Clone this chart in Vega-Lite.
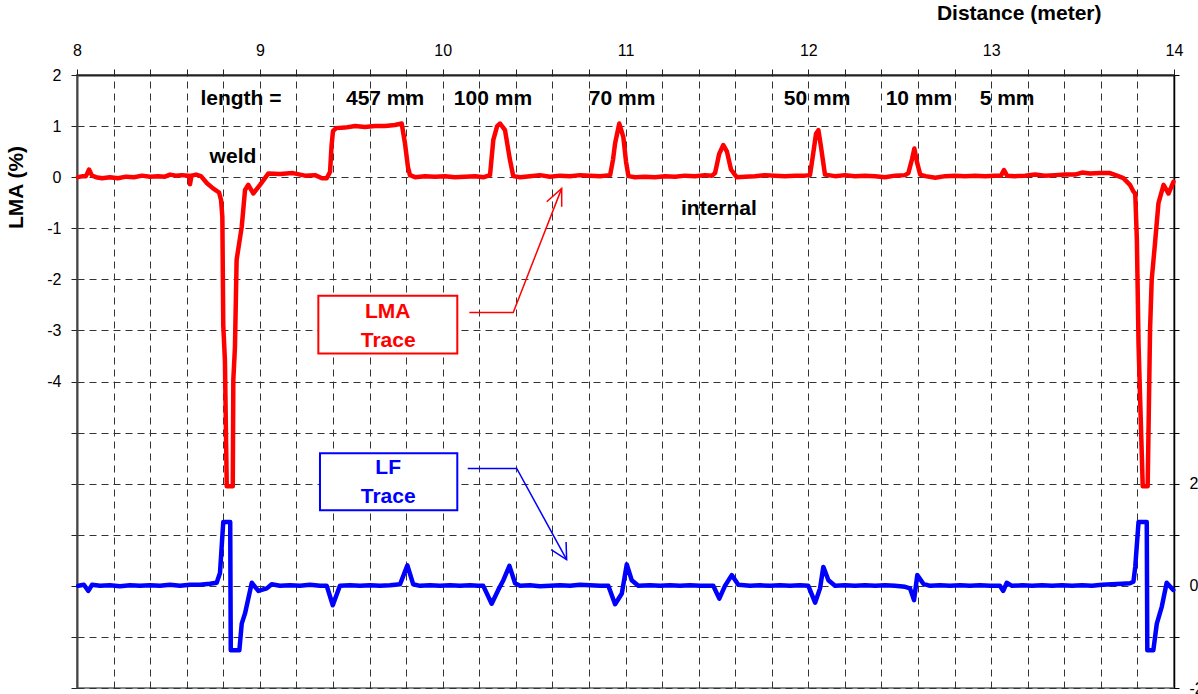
{
  "$schema": "https://vega.github.io/schema/vega-lite/v6.json",
  "width": 1097,
  "height": 613,
  "autosize": {"type": "none"},
  "padding": {"top": 75, "left": 77, "right": 24, "bottom": 6},
  "background": "#ffffff",
  "config": {"view": {"stroke": "#888888", "strokeWidth": 2}, "font": "Liberation Sans"},
  "datasets": {
    "lma": [
      {"x":8.005,"y":0},{"x":8.033,"y":0.02},{"x":8.049,"y":0.02},{"x":8.066,"y":0.15},{"x":8.082,"y":0.03},{"x":8.104,"y":0},{"x":8.137,"y":-0.02},{"x":8.18,"y":0},{"x":8.224,"y":-0.02},{"x":8.268,"y":0.01},{"x":8.312,"y":0},{"x":8.356,"y":0.03},{"x":8.399,"y":0.01},{"x":8.443,"y":0.02},{"x":8.481,"y":0.01},{"x":8.509,"y":0.05},{"x":8.541,"y":0.03},{"x":8.574,"y":0.04},{"x":8.607,"y":0.03},{"x":8.615,"y":0.03},{"x":8.618,"y":-0.14},{"x":8.626,"y":0.03},{"x":8.651,"y":0.05},{"x":8.678,"y":0.02},{"x":8.711,"y":-0.12},{"x":8.744,"y":-0.22},{"x":8.777,"y":-0.3},{"x":8.788,"y":-0.45},{"x":8.795,"y":-0.78},{"x":8.8,"y":-2.9},{"x":8.809,"y":-3.58},{"x":8.819,"y":-6.05},{"x":8.852,"y":-6.05},{"x":8.855,"y":-3.97},{"x":8.864,"y":-3.32},{"x":8.873,"y":-1.62},{"x":8.901,"y":-0.97},{"x":8.919,"y":-0.25},{"x":8.937,"y":-0.15},{"x":8.964,"y":-0.32},{"x":9.001,"y":-0.15},{"x":9.046,"y":0.07},{"x":9.11,"y":0.06},{"x":9.181,"y":0.08},{"x":9.247,"y":0.03},{"x":9.302,"y":0.04},{"x":9.34,"y":-0.02},{"x":9.366,"y":-0.02},{"x":9.384,"y":0.1},{"x":9.392,"y":0.6},{"x":9.4,"y":0.9},{"x":9.417,"y":0.96},{"x":9.466,"y":0.97},{"x":9.521,"y":1.0},{"x":9.575,"y":0.98},{"x":9.63,"y":1.0},{"x":9.685,"y":1.0},{"x":9.739,"y":1.02},{"x":9.776,"y":1.05},{"x":9.794,"y":0.66},{"x":9.81,"y":0.2},{"x":9.821,"y":0.04},{"x":9.849,"y":0},{"x":9.903,"y":0.02},{"x":9.958,"y":0.01},{"x":10.013,"y":0.02},{"x":10.067,"y":0},{"x":10.122,"y":0.01},{"x":10.177,"y":0.02},{"x":10.226,"y":0},{"x":10.259,"y":0.04},{"x":10.277,"y":0.73},{"x":10.298,"y":1.0},{"x":10.314,"y":1.05},{"x":10.341,"y":0.92},{"x":10.368,"y":0.34},{"x":10.386,"y":0.02},{"x":10.423,"y":0},{"x":10.478,"y":0.02},{"x":10.532,"y":0.04},{"x":10.587,"y":0.01},{"x":10.642,"y":0.03},{"x":10.697,"y":0.02},{"x":10.751,"y":0.04},{"x":10.806,"y":0.03},{"x":10.861,"y":0.02},{"x":10.916,"y":0.04},{"x":10.932,"y":0.35},{"x":10.943,"y":0.66},{"x":10.966,"y":1.05},{"x":10.988,"y":0.79},{"x":11.003,"y":0.3},{"x":11.016,"y":0.02},{"x":11.052,"y":0},{"x":11.107,"y":0.01},{"x":11.161,"y":0},{"x":11.216,"y":0.02},{"x":11.271,"y":0.01},{"x":11.326,"y":0.03},{"x":11.38,"y":0.02},{"x":11.435,"y":0.04},{"x":11.473,"y":0.03},{"x":11.49,"y":0.08},{"x":11.512,"y":0.45},{"x":11.535,"y":0.63},{"x":11.555,"y":0.5},{"x":11.577,"y":0.15},{"x":11.608,"y":0},{"x":11.654,"y":0.01},{"x":11.708,"y":0.02},{"x":11.763,"y":0.04},{"x":11.818,"y":0.03},{"x":11.872,"y":0.02},{"x":11.927,"y":0.03},{"x":11.982,"y":0.03},{"x":12.009,"y":0.04},{"x":12.027,"y":0.47},{"x":12.042,"y":0.85},{"x":12.055,"y":0.92},{"x":12.069,"y":0.6},{"x":12.091,"y":0.05},{"x":12.146,"y":0.02},{"x":12.201,"y":0.04},{"x":12.255,"y":0.02},{"x":12.31,"y":0.03},{"x":12.365,"y":0.02},{"x":12.419,"y":0},{"x":12.474,"y":0.03},{"x":12.529,"y":0.04},{"x":12.547,"y":0.08},{"x":12.567,"y":0.35},{"x":12.58,"y":0.56},{"x":12.594,"y":0.3},{"x":12.612,"y":0.05},{"x":12.64,"y":0.02},{"x":12.694,"y":-0.01},{"x":12.749,"y":0.02},{"x":12.802,"y":0.03},{"x":12.857,"y":0.02},{"x":12.912,"y":0.03},{"x":12.966,"y":0.02},{"x":13.021,"y":0.03},{"x":13.054,"y":0.03},{"x":13.07,"y":0.14},{"x":13.087,"y":0.03},{"x":13.13,"y":0.02},{"x":13.185,"y":0.03},{"x":13.24,"y":0.05},{"x":13.294,"y":0.03},{"x":13.349,"y":0.04},{"x":13.404,"y":0.05},{"x":13.459,"y":0.05},{"x":13.497,"y":0.09},{"x":13.541,"y":0.07},{"x":13.595,"y":0.08},{"x":13.65,"y":0.08},{"x":13.688,"y":0.03},{"x":13.723,"y":-0.02},{"x":13.759,"y":-0.15},{"x":13.778,"y":-0.28},{"x":13.788,"y":-0.32},{"x":13.797,"y":-1.23},{"x":13.806,"y":-3.26},{"x":13.815,"y":-4.37},{"x":13.829,"y":-6.05},{"x":13.856,"y":-6.05},{"x":13.869,"y":-2.99},{"x":13.878,"y":-2.01},{"x":13.896,"y":-1.3},{"x":13.915,"y":-0.51},{"x":13.943,"y":-0.15},{"x":13.97,"y":-0.32},{"x":13.997,"y":-0.09}
    ],
    "lf": [
      {"x":8.007,"v":0},{"x":8.038,"v":0.02},{"x":8.062,"v":-0.1},{"x":8.082,"v":0.02},{"x":8.126,"v":0},{"x":8.18,"v":0.01},{"x":8.235,"v":-0.01},{"x":8.29,"v":0.01},{"x":8.345,"v":0},{"x":8.399,"v":0.01},{"x":8.454,"v":0},{"x":8.509,"v":0.02},{"x":8.563,"v":0},{"x":8.618,"v":0.02},{"x":8.673,"v":0.02},{"x":8.727,"v":0.04},{"x":8.764,"v":0.06},{"x":8.782,"v":0.25},{"x":8.8,"v":1.25},{"x":8.838,"v":1.25},{"x":8.841,"v":-1.26},{"x":8.888,"v":-1.26},{"x":8.901,"v":-0.74},{"x":8.919,"v":-0.54},{"x":8.956,"v":0.06},{"x":8.992,"v":-0.1},{"x":9.038,"v":-0.05},{"x":9.065,"v":0.03},{"x":9.11,"v":0},{"x":9.165,"v":0.01},{"x":9.22,"v":0},{"x":9.274,"v":0.02},{"x":9.329,"v":0},{"x":9.366,"v":0},{"x":9.399,"v":-0.38},{"x":9.438,"v":0},{"x":9.493,"v":0.01},{"x":9.548,"v":0},{"x":9.603,"v":0.01},{"x":9.657,"v":0},{"x":9.712,"v":0.01},{"x":9.767,"v":0.03},{"x":9.807,"v":0.4},{"x":9.839,"v":0.03},{"x":9.876,"v":0},{"x":9.931,"v":0.01},{"x":9.985,"v":0},{"x":10.04,"v":0.01},{"x":10.095,"v":0},{"x":10.15,"v":0.01},{"x":10.193,"v":0},{"x":10.222,"v":0},{"x":10.268,"v":-0.35},{"x":10.304,"v":-0.08},{"x":10.332,"v":0.11},{"x":10.365,"v":0.39},{"x":10.396,"v":0.05},{"x":10.423,"v":0},{"x":10.478,"v":0.01},{"x":10.532,"v":-0.01},{"x":10.587,"v":0},{"x":10.642,"v":0.01},{"x":10.697,"v":0},{"x":10.751,"v":0.02},{"x":10.806,"v":0.01},{"x":10.861,"v":0},{"x":10.906,"v":0},{"x":10.943,"v":-0.36},{"x":10.98,"v":-0.15},{"x":11.007,"v":0.42},{"x":11.034,"v":0.11},{"x":11.07,"v":0},{"x":11.134,"v":0.01},{"x":11.189,"v":0},{"x":11.243,"v":0.01},{"x":11.298,"v":0},{"x":11.353,"v":0.01},{"x":11.408,"v":0},{"x":11.48,"v":0},{"x":11.513,"v":-0.25},{"x":11.544,"v":0},{"x":11.581,"v":0.21},{"x":11.617,"v":0.02},{"x":11.681,"v":0},{"x":11.736,"v":0.01},{"x":11.79,"v":0},{"x":11.845,"v":0.01},{"x":11.9,"v":0},{"x":11.955,"v":0.01},{"x":12.0,"v":0},{"x":12.037,"v":-0.33},{"x":12.064,"v":-0.05},{"x":12.082,"v":0.37},{"x":12.11,"v":0.11},{"x":12.146,"v":0},{"x":12.201,"v":0.01},{"x":12.255,"v":0},{"x":12.31,"v":0.01},{"x":12.365,"v":0},{"x":12.419,"v":0.01},{"x":12.474,"v":0},{"x":12.529,"v":-0.02},{"x":12.556,"v":-0.05},{"x":12.578,"v":-0.28},{"x":12.596,"v":0.21},{"x":12.629,"v":0.04},{"x":12.666,"v":0},{"x":12.72,"v":0.01},{"x":12.775,"v":0},{"x":12.83,"v":0.01},{"x":12.884,"v":0},{"x":12.939,"v":0.01},{"x":12.994,"v":0},{"x":13.048,"v":0},{"x":13.066,"v":-0.1},{"x":13.085,"v":0.06},{"x":13.114,"v":0},{"x":13.169,"v":0.01},{"x":13.224,"v":0},{"x":13.278,"v":0.01},{"x":13.333,"v":0},{"x":13.388,"v":0.01},{"x":13.442,"v":0},{"x":13.497,"v":0.01},{"x":13.552,"v":0},{"x":13.606,"v":0.02},{"x":13.661,"v":0.03},{"x":13.716,"v":0.04},{"x":13.759,"v":0.05},{"x":13.778,"v":0.08},{"x":13.788,"v":0.37},{"x":13.806,"v":1.25},{"x":13.851,"v":1.25},{"x":13.854,"v":-1.26},{"x":13.887,"v":-1.26},{"x":13.906,"v":-0.74},{"x":13.933,"v":-0.41},{"x":13.96,"v":0.06},{"x":13.996,"v":-0.08}
    ],
    "labels": [
      {"x":8.897,"y":1.53,"text":"length ="},
      {"x":9.685,"y":1.53,"text":"457 mm"},
      {"x":10.275,"y":1.53,"text":"100 mm"},
      {"x":10.981,"y":1.53,"text":"70 mm"},
      {"x":12.048,"y":1.53,"text":"50 mm"},
      {"x":12.605,"y":1.53,"text":"10 mm"},
      {"x":13.087,"y":1.53,"text":"5 mm"},
      {"x":8.853,"y":0.394,"text":"weld"},
      {"x":11.511,"y":-0.624,"text":"internal"}
    ],
    "boxes": [
      {"trace":"LMA","x":9.32,"x2":10.08,"y":-2.322,"y2":-3.451},
      {"trace":"LF","x":9.329,"x2":10.08,"y":-5.403,"y2":-6.519}
    ],
    "btext": [
      {"trace":"LMA","x":9.699,"y":-2.648,"text":"LMA"},
      {"trace":"LMA","x":9.702,"y":-3.21,"text":"Trace"},
      {"trace":"LF","x":9.702,"y":-5.703,"text":"LF"},
      {"trace":"LF","x":9.702,"y":-6.258,"text":"Trace"}
    ],
    "arrows": [
      {"seg":"ra","trace":"LMA","o":1,"x":10.146,"y":-2.648},
      {"seg":"ra","trace":"LMA","o":2,"x":10.386,"y":-2.648},
      {"seg":"ra","trace":"LMA","o":3,"x":10.651,"y":-0.219},
      {"seg":"rh","trace":"LMA","o":1,"x":10.569,"y":-0.481},
      {"seg":"rh","trace":"LMA","o":2,"x":10.651,"y":-0.219},
      {"seg":"rh","trace":"LMA","o":3,"x":10.651,"y":-0.579},
      {"seg":"ba","trace":"LF","o":1,"x":10.137,"y":-5.703},
      {"seg":"ba","trace":"LF","o":2,"x":10.405,"y":-5.703},
      {"seg":"ba","trace":"LF","o":3,"x":10.678,"y":-7.485},
      {"seg":"bh","trace":"LF","o":1,"x":10.593,"y":-7.289},
      {"seg":"bh","trace":"LF","o":2,"x":10.678,"y":-7.485},
      {"seg":"bh","trace":"LF","o":3,"x":10.675,"y":-7.14}
    ]
  },
  "encoding": {
    "x": {
      "field": "x", "type": "quantitative",
      "scale": {"domain": [8, 14], "nice": false, "zero": false},
      "axis": {
        "orient": "top",
        "values": [8,8.2,8.4,8.6,8.8,9,9.2,9.4,9.6,9.8,10,10.2,10.4,10.6,10.8,11,11.2,11.4,11.6,11.8,12,12.2,12.4,12.6,12.8,13,13.2,13.4,13.6,13.8,14],
        "labelExpr": "datum.value % 1 === 0 ? '' + datum.value : ''",
        "labelFlush": false, "labelOverlap": false,
        "labelFont": "Liberation Sans", "labelFontSize": 16, "labelColor": "#000000", "labelPadding": 11,
        "tickSize": 6, "tickColor": "#222222", "tickWidth": 1,
        "domainColor": "#222222", "domainWidth": 2,
        "grid": true, "gridColor": "#333333", "gridDash": [7, 5], "gridWidth": 1,
        "title": "Distance (meter)", "titleFont": "Liberation Sans", "titleFontSize": 21, "titleFontWeight": "bold", "titleColor": "#000000",
        "titleAlign": "right", "titleBaseline": "middle", "titleX": 1024, "titleY": -62
      }
    }
  },
  "layer": [
    {
      "encoding": {
        "y": {
          "field": "y", "type": "quantitative",
          "scale": {"domain": [-10, 2], "nice": false, "zero": false},
          "axis": {
            "orient": "left",
            "values": [2,1,0,-1,-2,-3,-4,-5,-6,-7,-8,-9,-10],
            "labelExpr": "datum.value >= -4 ? '' + datum.value : ''",
            "labelOverlap": false,
            "labelFont": "Liberation Sans", "labelFontSize": 16, "labelColor": "#000000", "labelPadding": 10,
            "tickSize": 6, "tickColor": "#222222", "tickWidth": 1,
            "domainColor": "#444444", "domainWidth": 2,
            "grid": true, "gridColor": "#333333", "gridDash": [7, 5], "gridWidth": 1,
            "title": "LMA (%)", "titleFont": "Liberation Sans", "titleFontSize": 21, "titleFontWeight": "bold", "titleColor": "#000000",
            "titleAngle": 270, "titleAlign": "center", "titleBaseline": "middle", "titleX": -61, "titleY": 112
          }
        }
      },
      "layer": [
        {
          "data": {"name": "lma"},
          "mark": {"type": "line", "color": "#ff0000", "strokeWidth": 4.5, "strokeJoin": "round", "strokeCap": "round"},
          "encoding": {}
        },
        {
          "data": {"name": "boxes"},
          "mark": {"type": "rect", "fill": "#ffffff", "strokeWidth": 2},
          "encoding": {
            "x2": {"field": "x2"},
            "y2": {"field": "y2"},
            "stroke": {"field": "trace", "type": "nominal", "scale": {"domain": ["LMA", "LF"], "range": ["#ff0000", "#0000ff"]}, "legend": null}
          }
        },
        {
          "data": {"name": "btext"},
          "mark": {"type": "text", "font": "Liberation Sans", "fontSize": 21, "fontWeight": "bold", "align": "center", "baseline": "middle"},
          "encoding": {
            "text": {"field": "text"},
            "color": {"field": "trace", "type": "nominal", "scale": {"domain": ["LMA", "LF"], "range": ["#ff0000", "#0000ff"]}, "legend": null}
          }
        },
        {
          "data": {"name": "arrows"},
          "mark": {"type": "line", "strokeWidth": 1.5},
          "encoding": {
            "detail": {"field": "seg"},
            "order": {"field": "o", "type": "quantitative"},
            "color": {"field": "trace", "type": "nominal", "scale": {"domain": ["LMA", "LF"], "range": ["#ff0000", "#0000ff"]}, "legend": null}
          }
        },
        {
          "data": {"name": "labels"},
          "mark": {"type": "text", "font": "Liberation Sans", "fontSize": 21, "fontWeight": "bold", "align": "center", "baseline": "middle", "color": "#000000"},
          "encoding": {"text": {"field": "text"}}
        }
      ]
    },
    {
      "data": {"name": "lf"},
      "mark": {"type": "line", "color": "#0000ff", "strokeWidth": 4.5, "strokeJoin": "round", "strokeCap": "round"},
      "encoding": {
        "y": {
          "field": "v", "type": "quantitative",
          "scale": {"domain": [-2, 10], "nice": false, "zero": false},
          "axis": {
            "orient": "right",
            "values": [-2,-1,0,1,2,3,4,5,6,7,8,9,10],
            "labelExpr": "(datum.value === -2 || datum.value === 0 || datum.value === 2) ? '' + datum.value : ''",
            "labelOverlap": false,
            "labelFont": "Liberation Sans", "labelFontSize": 16, "labelColor": "#000000", "labelPadding": 10,
            "tickSize": 5, "tickColor": "#000000", "tickWidth": 1,
            "domainColor": "#000000", "domainWidth": 1.5,
            "grid": false, "title": null
          }
        }
      }
    }
  ],
  "resolve": {"scale": {"y": "independent"}, "axis": {"y": "independent"}}
}
